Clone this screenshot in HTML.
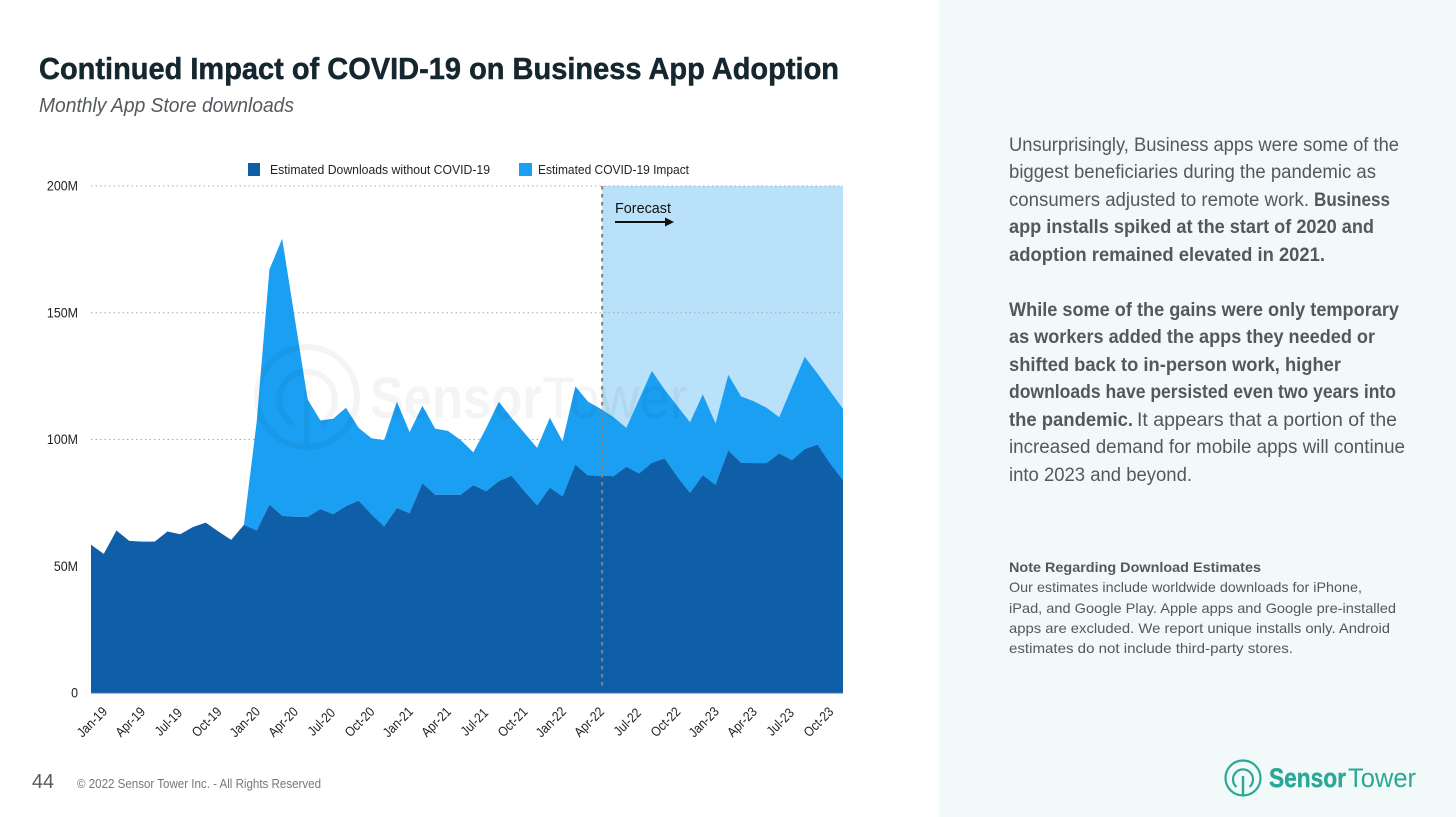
<!DOCTYPE html>
<html lang="en">
<head>
<meta charset="utf-8">
<title>Continued Impact of COVID-19 on Business App Adoption</title>
<style>
html,body{margin:0;padding:0;background:#fff;width:1456px;height:817px;overflow:hidden}
svg{display:block}
text{font-family:"Liberation Sans",sans-serif}
</style>
</head>
<body>
<svg id="slide" width="1456" height="817" viewBox="0 0 1456 817" xmlns="http://www.w3.org/2000/svg">
  <rect x="0" y="0" width="1456" height="817" fill="#ffffff"/>
  <rect x="939" y="0" width="517" height="817" fill="#f2faf9"/>

  <text x="39" y="79" font-size="31" font-weight="700" fill="#15262f" stroke="#15262f" stroke-width="0.5" textLength="800" lengthAdjust="spacingAndGlyphs">Continued Impact of COVID-19 on Business App Adoption</text>
  <text x="39" y="112" font-size="20.5" font-style="italic" fill="#555a5e" textLength="255" lengthAdjust="spacingAndGlyphs">Monthly App Store downloads</text>

  <g>
    <rect x="248" y="163" width="12" height="13" fill="#0f5ea8"/>
    <text x="270" y="174" font-size="13" fill="#222" textLength="220" lengthAdjust="spacingAndGlyphs">Estimated Downloads without COVID-19</text>
    <rect x="519" y="163" width="13" height="13" fill="#1a9ff2"/>
    <text x="538" y="174" font-size="13" fill="#222" textLength="151" lengthAdjust="spacingAndGlyphs">Estimated COVID-19 Impact</text>
  </g>

  <g id="plot"></g>

  <g>
    <text x="615" y="213" font-size="15" fill="#111" textLength="56" lengthAdjust="spacingAndGlyphs">Forecast</text>
    <line x1="615" y1="222" x2="667" y2="222" stroke="#111" stroke-width="2"/>
    <polygon points="665,217.5 674,222 665,226.5" fill="#111"/>
  </g>

  <g opacity="0.04">
    <circle cx="307" cy="397" r="50" fill="none" stroke="#000" stroke-width="6"/>
    <path d="M293 424 A28 28 0 1 1 321 424" fill="none" stroke="#000" stroke-width="6"/>
    <line x1="307" y1="390" x2="307" y2="445" stroke="#000" stroke-width="6"/>
    <text x="370" y="418" font-size="58" font-weight="700" fill="#000" textLength="172" lengthAdjust="spacingAndGlyphs">Sensor</text>
    <text x="542" y="418" font-size="58" fill="#000" textLength="146" lengthAdjust="spacingAndGlyphs">Tower</text>
  </g>

  <g font-size="19" fill="#55585a">
    <text x="1009" y="151" textLength="390" lengthAdjust="spacingAndGlyphs">Unsurprisingly, Business apps were some of the</text>
    <text x="1009" y="178" textLength="367" lengthAdjust="spacingAndGlyphs">biggest beneficiaries during the pandemic as</text>
    <text x="1009" y="206" textLength="300" lengthAdjust="spacingAndGlyphs">consumers adjusted to remote work.</text>
    <text x="1314" y="206" font-weight="700" textLength="76" lengthAdjust="spacingAndGlyphs">Business</text>
    <text x="1009" y="233" font-weight="700" textLength="365" lengthAdjust="spacingAndGlyphs">app installs spiked at the start of 2020 and</text>
    <text x="1009" y="261" font-weight="700" textLength="316" lengthAdjust="spacingAndGlyphs">adoption remained elevated in 2021.</text>
    <text x="1009" y="316" font-weight="700" textLength="390" lengthAdjust="spacingAndGlyphs">While some of the gains were only temporary</text>
    <text x="1009" y="343" font-weight="700" textLength="366" lengthAdjust="spacingAndGlyphs">as workers added the apps they needed or</text>
    <text x="1009" y="371" font-weight="700" textLength="332" lengthAdjust="spacingAndGlyphs">shifted back to in-person work, higher</text>
    <text x="1009" y="398" font-weight="700" textLength="387" lengthAdjust="spacingAndGlyphs">downloads have persisted even two years into</text>
    <text x="1009" y="426" font-weight="700" textLength="124" lengthAdjust="spacingAndGlyphs">the pandemic.</text>
    <text x="1137" y="426" textLength="260" lengthAdjust="spacingAndGlyphs">It appears that a portion of the</text>
    <text x="1009" y="453" textLength="396" lengthAdjust="spacingAndGlyphs">increased demand for mobile apps will continue</text>
    <text x="1009" y="481" textLength="183" lengthAdjust="spacingAndGlyphs">into 2023 and beyond.</text>
  </g>

  <g font-size="14" fill="#55585a">
    <text x="1009" y="572" font-weight="700" textLength="252" lengthAdjust="spacingAndGlyphs">Note Regarding Download Estimates</text>
    <text x="1009" y="592" textLength="353" lengthAdjust="spacingAndGlyphs">Our estimates include worldwide downloads for iPhone,</text>
    <text x="1009" y="613" textLength="387" lengthAdjust="spacingAndGlyphs">iPad, and Google Play. Apple apps and Google pre-installed</text>
    <text x="1009" y="633" textLength="381" lengthAdjust="spacingAndGlyphs">apps are excluded. We report unique installs only. Android</text>
    <text x="1009" y="653" textLength="284" lengthAdjust="spacingAndGlyphs">estimates do not include third-party stores.</text>
  </g>

  <text x="32" y="788" font-size="20" fill="#555a5e" textLength="22" lengthAdjust="spacingAndGlyphs">44</text>
  <text x="77" y="788" font-size="12.5" fill="#777" textLength="244" lengthAdjust="spacingAndGlyphs">© 2022 Sensor Tower Inc. - All Rights Reserved</text>

  <g>
    <circle cx="1243" cy="778" r="17.5" fill="none" stroke="#2aa897" stroke-width="2.2"/>
    <path d="M1236.5 787 A10 10 0 1 1 1249.5 787" fill="none" stroke="#2aa897" stroke-width="2.2"/>
    <line x1="1243" y1="776" x2="1243" y2="795" stroke="#2aa897" stroke-width="2.4"/>
    <text x="1269" y="787" font-size="27" font-weight="700" fill="#2aa897" stroke="#2aa897" stroke-width="0.4" textLength="77" lengthAdjust="spacingAndGlyphs">Sensor</text>
    <text x="1348" y="787" font-size="27" fill="#2aa897" textLength="68" lengthAdjust="spacingAndGlyphs">Tower</text>
  </g>
</svg>

<script>
const categories = ['Jan-19','Feb-19','Mar-19','Apr-19','May-19','Jun-19','Jul-19','Aug-19','Sep-19','Oct-19','Nov-19','Dec-19',
  'Jan-20','Feb-20','Mar-20','Apr-20','May-20','Jun-20','Jul-20','Aug-20','Sep-20','Oct-20','Nov-20','Dec-20',
  'Jan-21','Feb-21','Mar-21','Apr-21','May-21','Jun-21','Jul-21','Aug-21','Sep-21','Oct-21','Nov-21','Dec-21',
  'Jan-22','Feb-22','Mar-22','Apr-22','May-22','Jun-22','Jul-22','Aug-22','Sep-22','Oct-22','Nov-22','Dec-22',
  'Jan-23','Feb-23','Mar-23','Apr-23','May-23','Jun-23','Jul-23','Aug-23','Sep-23','Oct-23','Nov-23','Dec-23'];
const downloadsWithoutCovid = [58.5,54.9,64.1,60,59.7,59.7,63.7,62.6,65.5,67.2,63.7,60.4,
  66.3,64.1,74.3,69.9,69.5,69.5,72.6,70.5,73.7,75.9,70.5,65.7,
  73,70.9,82.8,78.2,78.2,78.2,82,79.6,83.6,85.7,79.6,74,
  81,77.5,90.1,85.8,85.7,85.5,89.2,86.6,90.8,92.5,85.3,78.9,
  85.9,82.1,95.7,90.8,90.7,90.7,94.5,91.8,96.2,98,90.5,83.9];
const covidImpact = [0,0,0,0,0,0,0,0,0,0,0,0,
  0,42.9,92.8,109.3,77.9,46.3,34.9,37.7,38.8,28.7,30,34,
  41.9,32,30.5,26.1,25.2,21.6,12.9,24.9,31.3,22.8,23,22.7,
  27.6,21.8,30.9,29.1,26.4,23.3,15.4,29.2,36.2,27.2,27.9,27.9,
  31.9,24.2,29.8,26.2,24.4,21.8,14.3,29,36.4,28,28.5,28.2];
const yTickValues = [0,50,100,150,200];
const yTickLabels = ['0','50M','100M','150M','200M'];
const xTickLabels = ['Jan-19','Apr-19','Jul-19','Oct-19','Jan-20','Apr-20','Jul-20','Oct-20','Jan-21','Apr-21','Jul-21','Oct-21','Jan-22','Apr-22','Jul-22','Oct-22','Jan-23','Apr-23','Jul-23','Oct-23'];
const forecastStart = 'May-22';

const NS = 'http://www.w3.org/2000/svg';
const plot = document.getElementById('plot');
const left = 91, right = 843, top_ = 186, bottom = 693, yMax = 200;
function xScale(i) { return left + (right - left) * i / (categories.length - 1); }
function yScale(v) { return bottom - (bottom - top_) * v / yMax; }
function make(tag, attrs, parent) {
  const el = document.createElementNS(NS, tag);
  for (const k in attrs) el.setAttribute(k, attrs[k]);
  parent.appendChild(el);
  return el;
}
const forecastX = xScale(categories.indexOf(forecastStart)) + 1.3;

const forecastBand = make('rect', {x: forecastX, y: yScale(yMax), width: right - forecastX, height: bottom - yScale(yMax), fill: '#b9e1fa'}, plot);



yTickValues.forEach(function (v, i) {
  if (v > 0) {
    const grid = make('line', {x1: left, x2: right, y1: yScale(v), y2: yScale(v), stroke: '#aaa', 'stroke-width': 1, 'stroke-dasharray': '1.5 3'}, plot);
    
    
  }
  const ty = yScale(v) + 4.5;
  const label = make('text', {x: 0, y: 0, 'text-anchor': 'end', 'font-size': 13.5, fill: '#222', transform: 'translate(78 ' + ty + ') scale(0.92 1)'}, plot);
  
  
  label.textContent = yTickLabels[i];
});

function points(values) {
  return values.map(function (v, i) { return xScale(i).toFixed(2) + ',' + yScale(v).toFixed(2); });
}
const totals = downloadsWithoutCovid.map(function (v, i) { return v + covidImpact[i]; });
const basePts = points(downloadsWithoutCovid);
const topPts = points(totals);

const impactArea = make('polygon', {points: topPts.concat(basePts.slice().reverse()).join(' '), fill: '#1a9ff2'}, plot);



const baseArea = make('polygon', {points: basePts.join(' ') + ' ' + right + ',' + bottom + ' ' + left + ',' + bottom, fill: '#0f5ea8'}, plot);



const axisLine = make('line', {x1: left, x2: right, y1: bottom, y2: bottom, stroke: '#3f78b8', 'stroke-width': 1}, plot);



const forecastLine = make('line', {x1: forecastX, x2: forecastX, y1: yScale(yMax), y2: 688, stroke: '#86827a', 'stroke-width': 2, 'stroke-dasharray': '3.5 4.5'}, plot);



xTickLabels.forEach(function (name) {
  const cx = xScale(categories.indexOf(name)) + 1, cy = 722;
  const t = make('text', {x: 0, y: 4.5, 'text-anchor': 'middle', 'font-size': 13.5, fill: '#222', transform: 'translate(' + cx + ' ' + cy + ') rotate(-45) scale(0.88 1)'}, plot);
  
  
  t.textContent = name;
});
</script>
</body>
</html>
